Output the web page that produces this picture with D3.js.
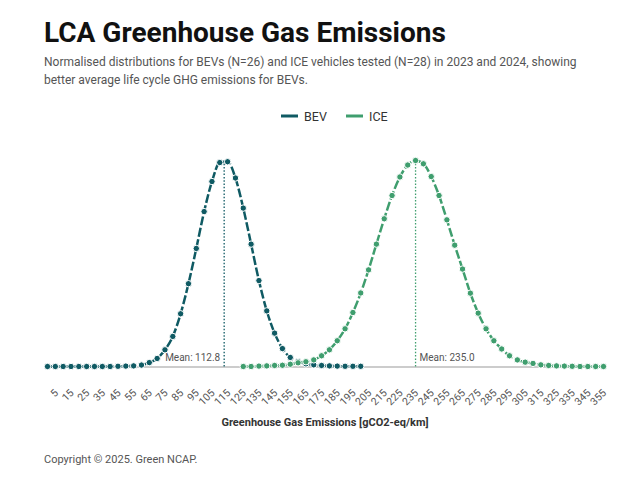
<!DOCTYPE html>
<html><head><meta charset="utf-8">
<script src="https://cdn.jsdelivr.net/npm/d3@7"></script>
<style>body{margin:0;background:#fff;font-family:Roboto,"Noto Sans",sans-serif}</style>
</head><body>
<svg id="c" width="640" height="480"></svg>
<script>
const seriesNames = ["BEV", "ICE"];
const colors = ["#0f5a63", "#3f9e6e"];
const means = [112.8, 235.0];
const bevX = d3.range(0, 205, 5);
const bevY = [0,0,0,0,0,0,0,0,0,0.001,0.002,0.003,0.007,0.019,0.039,0.081,0.146,0.256,0.402,0.573,0.752,0.898,0.99,0.994,0.915,0.769,0.594,0.417,0.27,0.162,0.087,0.044,0.024,0.013,0.008,0.005,0.003,0.002,0.001,0.001,0.001];
const iceX = d3.range(125, 360, 5);
const iceY = [0,0,0.002,0.003,0.005,0.006,0.011,0.018,0.023,0.032,0.052,0.081,0.125,0.183,0.262,0.357,0.469,0.594,0.717,0.83,0.92,0.978,1.0,0.984,0.922,0.83,0.712,0.589,0.473,0.356,0.259,0.183,0.125,0.085,0.052,0.032,0.021,0.015,0.008,0.005,0.003,0.002,0.001,0,0,0,0];
const tickValues = d3.range(5, 360, 10);

const svg = d3.select("#c");
svg.append("text").attr("x",44).attr("y",42).attr("font-size",28).attr("font-weight",700).attr("fill","#111").text("LCA Greenhouse Gas Emissions");
svg.append("text").attr("x",44).attr("y",66).attr("font-size",12).attr("fill","#555").text("Normalised distributions for BEVs (N=26) and ICE vehicles tested (N=28) in 2023 and 2024, showing");
svg.append("text").attr("x",44).attr("y",84).attr("font-size",12).attr("fill","#555").text("better average life cycle GHG emissions for BEVs.");

// legend
const leg = [{x:281},{x:346}];
seriesNames.forEach((n,i)=>{
  svg.append("line").attr("x1",leg[i].x).attr("x2",leg[i].x+17).attr("y1",116).attr("y2",116).attr("stroke",colors[i]).attr("stroke-width",3);
  svg.append("text").attr("x",leg[i].x+23).attr("y",120.5).attr("font-size",12.5).attr("fill","#333").text(n);
});

const x = d3.scaleLinear().domain([0,355]).range([47.5,603.5]);
const y = d3.scaleLinear().domain([0,1]).range([366.5,160.5]);

// axis
const ax = svg.append("g").attr("transform","translate(0,366.5)")
  .call(d3.axisBottom(x).tickValues(tickValues).tickSize(0).tickFormat(d3.format("d")));
ax.select(".domain").attr("stroke","#bbb").attr("stroke-width",1.5);
ax.selectAll("text").attr("font-size",10.5).attr("fill","#555").attr("font-family","Roboto")
  .attr("text-anchor","end").attr("dy",null).attr("y",null)
  .attr("transform","translate(3,27) rotate(-45)");
svg.append("text").attr("x",325).attr("y",426).attr("text-anchor","middle").attr("font-size",11).attr("font-weight",700).attr("fill","#333").text("Greenhouse Gas Emissions [gCO2-eq/km]");
svg.append("text").attr("x",44).attr("y",463).attr("font-size",11).attr("fill","#555").text("Copyright © 2025. Green NCAP.");

// mean lines
means.forEach((m,i)=>{
  svg.append("line").attr("x1",x(m)).attr("x2",x(m)).attr("y1",y(0)).attr("y2",y(1)).attr("stroke",colors[i]).attr("stroke-width",1.3).attr("stroke-dasharray","1.5,1.8");
  svg.append("text").attr("x", i===0 ? x(m)-4 : x(m)+4).attr("y",361).attr("text-anchor", i===0?"end":"start").attr("font-size",10).attr("fill","#555").text("Mean: "+m.toFixed(1));
});

const data = [bevX.map((v,i)=>[v,bevY[i]]), iceX.map((v,i)=>[v,iceY[i]])];
const line = d3.line().x(d=>x(d[0])).y(d=>y(d[1])).curve(d3.curveMonotoneX);
data.forEach((pts,i)=>{
  const g = svg.append("g");
  g.append("path").attr("d",line(pts)).attr("fill","none").attr("stroke",colors[i]).attr("stroke-width",2.5).attr("stroke-dasharray","9,2.5");
  g.selectAll("circle").data(pts).join("circle").attr("cx",d=>x(d[0])).attr("cy",d=>y(d[1])).attr("r",3.2).attr("fill",colors[i]).attr("stroke","#fff").attr("stroke-width",1);
});
</script>
</body></html>
